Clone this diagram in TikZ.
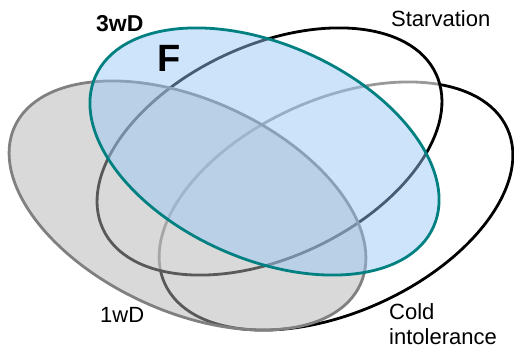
\documentclass[tikz,border=0pt]{standalone}
\usepackage{fontspec}
\setmainfont{Liberation Sans}
\definecolor{bluefill}{RGB}{150,198,246}
\definecolor{greyfill}{RGB}{179,179,179}
\definecolor{greyline}{RGB}{128,128,128}
\definecolor{tealline}{RGB}{0,128,128}
\tikzset{
  venn/.style={line width=2.8pt},
  lbl/.style={anchor=base west, inner sep=0pt, font=\fontsize{22}{25}\selectfont},
}
\begin{document}
\begin{tikzpicture}[x=1pt,y=-1pt]
\useasboundingbox (0,0) rectangle (514,352);
% Cold intolerance
\draw[venn, black, rotate around={24.3:(336,206)}] (336,206) ellipse [x radius=188, y radius=106.4];
% Starvation
\draw[venn, black, fill=white, fill opacity=0.6, rotate around={25:(269.5,151.5)}] (269.5,151.5) ellipse [x radius=183.7, y radius=106.1];
% 1wD
\draw[venn, draw=greyline, fill=greyfill, fill opacity=0.5, rotate around={-24.5:(187.5,205.5)}] (187.5,205.5) ellipse [x radius=190, y radius=106];
% 3wD
\draw[venn, draw=tealline, fill=bluefill, fill opacity=0.47, rotate around={-24:(264.5,151.5)}] (264.5,151.5) ellipse [x radius=185, y radius=107.3];
% labels
\node[lbl, font=\fontsize{23}{25}\selectfont\bfseries] (l3wd) at (96,32) {3wD};
\node[lbl, font=\fontsize{38}{40}\selectfont\bfseries] (lf) at (157,72) {F};
\node[lbl] (lstarv) at (391,27) {Starvation};
\node[lbl] (l1wd) at (100,323) {1wD};
\node[lbl, align=left] (lcold) at (389,345) {Cold\\intolerance};
\end{tikzpicture}
\end{document}
